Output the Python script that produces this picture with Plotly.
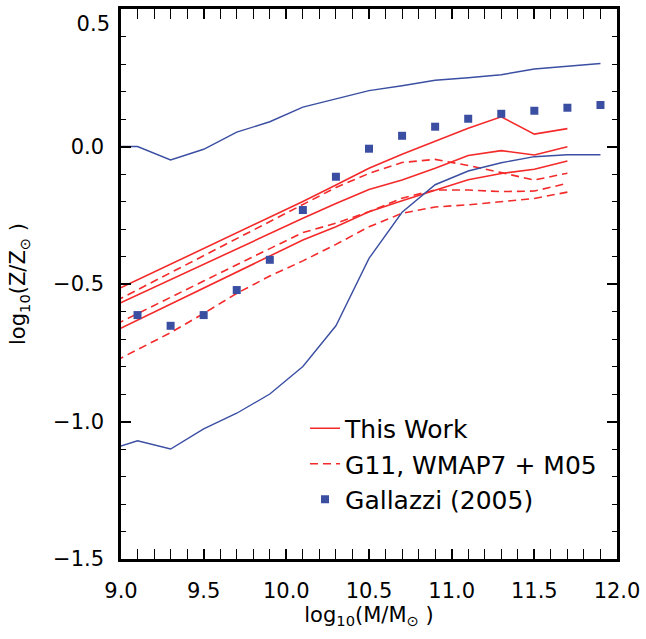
import plotly.graph_objects as go

# ---- data ----
x_red = [8.9, 9.1, 9.3, 9.5, 9.7, 9.9, 10.1, 10.3, 10.5, 10.7, 10.9, 11.1, 11.3, 11.5, 11.7]
work_hi = [-0.542, -0.485, -0.428, -0.371, -0.314, -0.257, -0.200, -0.140, -0.079, -0.028, 0.018, 0.066, 0.108, 0.045, 0.065]
work_mid = [-0.596, -0.540, -0.484, -0.428, -0.372, -0.316, -0.261, -0.207, -0.156, -0.122, -0.079, -0.033, -0.015, -0.031, -0.001]
work_lo = [-0.690, -0.632, -0.574, -0.516, -0.457, -0.398, -0.340, -0.292, -0.237, -0.197, -0.158, -0.121, -0.098, -0.083, -0.053]
g11_hi = [-0.583, -0.521, -0.460, -0.398, -0.336, -0.275, -0.213, -0.149, -0.098, -0.058, -0.047, -0.069, -0.095, -0.122, -0.097]
g11_mid = [-0.667, -0.607, -0.548, -0.489, -0.430, -0.372, -0.313, -0.279, -0.237, -0.188, -0.158, -0.158, -0.164, -0.162, -0.134]
g11_lo = [-0.800, -0.740, -0.677, -0.607, -0.534, -0.471, -0.416, -0.356, -0.292, -0.243, -0.220, -0.212, -0.201, -0.189, -0.166]

x_gal = [8.9, 9.1, 9.3, 9.5, 9.7, 9.9, 10.1, 10.3, 10.5, 10.7, 10.9, 11.1, 11.3, 11.5, 11.7, 11.9]
gal_hi = [0.0, 0.0, -0.049, -0.010, 0.052, 0.090, 0.143, 0.173, 0.203, 0.221, 0.241, 0.250, 0.261, 0.282, 0.292, 0.302]
gal_lo = [-1.108, -1.070, -1.100, -1.027, -0.970, -0.900, -0.800, -0.652, -0.407, -0.239, -0.139, -0.089, -0.059, -0.037, -0.030, -0.030]

x_pts = [9.1, 9.3, 9.5, 9.7, 9.9, 10.1, 10.3, 10.5, 10.7, 10.9, 11.1, 11.3, 11.5, 11.7, 11.9]
gal_med = [-0.613, -0.652, -0.613, -0.522, -0.412, -0.231, -0.110, -0.008, 0.039, 0.072, 0.101, 0.119, 0.130, 0.141, 0.151]

y_ticks = [-1.5, -1.0, -0.5, 0.0, 0.5]
y_tick_text = ["−1.5", "−1.0", "−0.5", "0.0", "0.5"]

RED = "#f42a2a"
BLUE = "#3a4ea2"
FONT = "DejaVu Sans"

fig = go.Figure()

for i, y in enumerate([work_hi, work_mid, work_lo]):
    fig.add_trace(go.Scatter(x=x_red, y=y, mode="lines", name="This Work",
                             legendgroup="work", showlegend=(i == 0),
                             line=dict(color=RED, width=1.6)))
for i, y in enumerate([g11_hi, g11_mid, g11_lo]):
    fig.add_trace(go.Scatter(x=x_red, y=y, mode="lines", name="G11, WMAP7 + M05",
                             legendgroup="g11", showlegend=(i == 0),
                             line=dict(color=RED, width=1.6, dash="8px,5px")))
fig.add_trace(go.Scatter(x=x_pts, y=gal_med, mode="markers", name="Gallazzi (2005)",
                         marker=dict(symbol="square", size=8, color=BLUE)))
for y in [gal_hi, gal_lo]:
    fig.add_trace(go.Scatter(x=x_gal, y=y, mode="lines", showlegend=False,
                             line=dict(color=BLUE, width=1.4)))
# empty trace so the helper axis for the top label is drawn
fig.add_trace(go.Scatter(x=[], y=[], yaxis="y2", showlegend=False, hoverinfo="skip"))

axis_common = dict(
    showline=True, linecolor="black", linewidth=2.5, mirror="allticks",
    ticks="inside", ticklen=10, tickwidth=1.5, tickcolor="black",
    showgrid=False, zeroline=False, automargin=False,
    tickfont=dict(family=FONT, size=21, color="black"),
    minor=dict(ticks="inside", ticklen=5, tickwidth=1.2, tickcolor="black", dtick=0.1, showgrid=False),
)

fig.update_xaxes(range=[9.0, 12.0], dtick=0.5, tick0=9.0, tickformat=".1f",
                 ticklabelstandoff=11,
                 title=dict(text="log<sub>10</sub>(M/M<sub>⊙</sub> )",
                            font=dict(family=FONT, size=21, color="black"), standoff=0),
                 **axis_common)
fig.update_yaxes(range=[-1.5, 0.5], tickmode="array", tickvals=y_ticks,
                 ticktext=y_tick_text[:-1] + [""],
                 ticklabelstandoff=10,
                 title=dict(text="log<sub>10</sub>(Z/Z<sub>⊙</sub> )",
                            font=dict(family=FONT, size=21, color="black"), standoff=22),
                 **axis_common)

fig.update_layout(
    width=646, height=639,
    margin=dict(l=121, r=29, t=9, b=80),
    paper_bgcolor="white", plot_bgcolor="white",
    showlegend=True,
    yaxis2=dict(overlaying="y", side="left", range=[-1.5, 0.5], tickmode="array",
                tickvals=y_ticks[-1:], ticktext=y_tick_text[-1:],
                ticklabelposition="outside bottom", ticks="", showline=False,
                showgrid=False, zeroline=False, automargin=False,
                ticklabelstandoff=10,
                tickfont=dict(family=FONT, size=21, color="black")),
    legend=dict(x=0.371, y=0.279, xanchor="left", yanchor="top",
                bgcolor="rgba(0,0,0,0)", borderwidth=0,
                font=dict(family=FONT, size=25, color="black"),
                itemwidth=30, tracegroupgap=0),
)

fig.write_html("out.html")
